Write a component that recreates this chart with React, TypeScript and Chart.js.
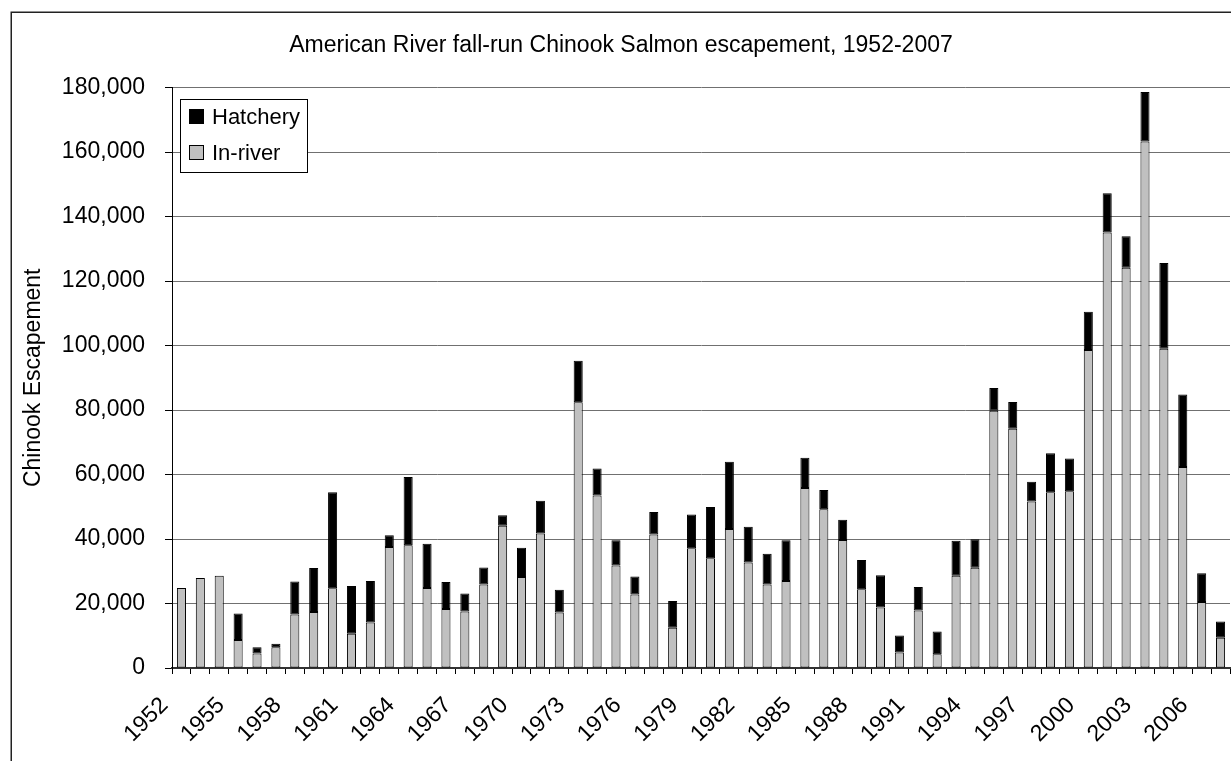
import React, { useEffect, useRef } from 'react';
import { Chart, registerables } from 'chart.js';

Chart.register(...registerables);

const years = [
  '1952', '1953', '1954', '1955', '1956', '1957', '1958', '1959', '1960', '1961',
  '1962', '1963', '1964', '1965', '1966', '1967', '1968', '1969', '1970', '1971',
  '1972', '1973', '1974', '1975', '1976', '1977', '1978', '1979', '1980', '1981',
  '1982', '1983', '1984', '1985', '1986', '1987', '1988', '1989', '1990', '1991',
  '1992', '1993', '1994', '1995', '1996', '1997', '1998', '1999', '2000', '2001',
  '2002', '2003', '2004', '2005', '2006', '2007',
];

const inRiver = [
  24800, 27900, 28600, 8700, 4500, 6400, 16600, 17400, 24700, 10600,
  14100, 37500, 38100, 24800, 18300, 17500, 25900, 44100, 28200, 41700,
  17200, 82400, 53500, 31800, 22800, 41400, 12500, 37100, 34000, 43100,
  32700, 25900, 27000, 55800, 49200, 39700, 24400, 18800, 4800, 17800,
  4300, 28600, 31100, 79800, 74200, 51600, 54500, 54800, 98600, 135100,
  124100, 163300, 99000, 62300, 20500, 9400,
];

const hatchery = [
  0, 0, 0, 8200, 1900, 1100, 10200, 13600, 29800, 14800,
  12900, 3700, 21100, 13700, 8400, 5600, 5300, 3300, 9100, 10200,
  7100, 12900, 8400, 7800, 5600, 7000, 8300, 10500, 15900, 20900,
  11100, 9500, 12600, 9400, 6000, 6300, 9100, 10000, 5300, 7300,
  7000, 10900, 8800, 7000, 8300, 6200, 12100, 10200, 11900, 12100,
  9800, 15300, 26600, 22500, 8900, 5000,
];

const TITLE = 'American River fall-run Chinook Salmon escapement, 1952-2007';
const Y_TITLE = 'Chinook Escapement';
const FONT = '"Liberation Sans", Arial, Helvetica, sans-serif';
const GREY = '#C0C0C0';

export default function App() {
  const ref = useRef<HTMLCanvasElement>(null);

  useEffect(() => {
    const canvas = ref.current;
    if (!canvas) return;

    const framePlugin = {
      id: 'frameAndLegend',
      beforeDraw(chart: any) {
        const c = chart.ctx;
        c.save();
        c.fillStyle = '#fff';
        c.fillRect(0, 0, chart.width, chart.height);
        c.strokeStyle = '#222';
        c.lineWidth = 1.5;
        c.strokeRect(11.25, 12.25, chart.width + 40, chart.height + 40);
        c.restore();
      },
      afterDraw(chart: any) {
        const c = chart.ctx;
        c.save();
        const bx = 180.5, by = 99.5, bw = 127, bh = 73;
        c.fillStyle = '#fff';
        c.fillRect(bx, by, bw, bh);
        c.strokeStyle = '#000';
        c.lineWidth = 1;
        c.strokeRect(bx, by, bw, bh);
        const items = [
          { label: chart.data.datasets[1].label, color: '#000', y: 117 },
          { label: chart.data.datasets[0].label, color: GREY, y: 153 },
        ];
        c.font = `22px ${FONT}`;
        c.textBaseline = 'middle';
        c.textAlign = 'left';
        for (const it of items) {
          c.fillStyle = it.color;
          c.fillRect(189.5, it.y - 7.5, 14, 14);
          c.strokeStyle = '#000';
          c.strokeRect(189.5, it.y - 7.5, 14, 14);
          c.fillStyle = '#000';
          c.fillText(it.label, 212, it.y + 1);
        }
        c.restore();
      },
    };

    const chart = new Chart(canvas, {
      type: 'bar',
      data: {
        labels: years,
        datasets: [
          {
            label: 'In-river',
            data: inRiver,
            backgroundColor: GREY,
            borderColor: '#000',
            borderWidth: 1,
            borderSkipped: false,
            barPercentage: 0.48,
            categoryPercentage: 1,
          },
          {
            label: 'Hatchery',
            data: hatchery,
            backgroundColor: '#000',
            borderColor: '#000',
            borderWidth: 1,
            borderSkipped: false,
            barPercentage: 0.48,
            categoryPercentage: 1,
          },
        ],
      },
      options: {
        responsive: false,
        animation: false,
        devicePixelRatio: 1,
        layout: { padding: { left: 12, right: 1, top: 0, bottom: 0 } },
        plugins: {
          legend: { display: false },
          tooltip: { enabled: false },
          title: {
            display: true,
            text: TITLE,
            color: '#000',
            font: { family: FONT, size: 23, weight: 'normal' },
            padding: { top: 32, bottom: 28 },
          },
        },
        scales: {
          x: {
            stacked: true,
            grid: {
              display: true,
              drawOnChartArea: false,
              drawTicks: true,
              tickLength: 6,
              tickWidth: 1,
              tickColor: '#000',
              color: '#000',
              offset: true,
            },
            border: { color: '#333', width: 2 },
            ticks: {
              autoSkip: false,
              maxRotation: 45,
              minRotation: 45,
              color: '#000',
              padding: 18,
              labelOffset: -17,
              font: { family: FONT, size: 23 },
              callback: (_v: any, i: number) => (i % 3 === 0 ? years[i] : ''),
            },
            afterFit: (s: any) => {
              s.height = 93;
              s.paddingLeft = 0;
              s.paddingRight = 0;
            },
          },
          y: {
            stacked: true,
            min: 0,
            max: 180000,
            grid: { color: '#707070', tickColor: '#000', tickLength: 7 },
            border: { color: '#000', width: 1 },
            ticks: {
              stepSize: 20000,
              color: '#000',
              padding: 20,
              font: { family: FONT, size: 23 },
              callback: (v: any) => Number(v).toLocaleString('en-US'),
            },
            title: {
              display: true,
              text: Y_TITLE,
              color: '#000',
              font: { family: FONT, size: 23 },
              padding: { top: 8, bottom: 0 },
            },
            afterFit: (s: any) => {
              s.width = 160;
            },
          },
        },
      },
      plugins: [framePlugin],
    } as any);

    return () => chart.destroy();
  }, []);

  return (
    <div style={{ position: 'fixed', left: 0, top: 0, width: 1231, height: 761, background: '#fff' }}>
      <canvas ref={ref} width={1231} height={761} style={{ display: 'block' }} />
    </div>
  );
}
